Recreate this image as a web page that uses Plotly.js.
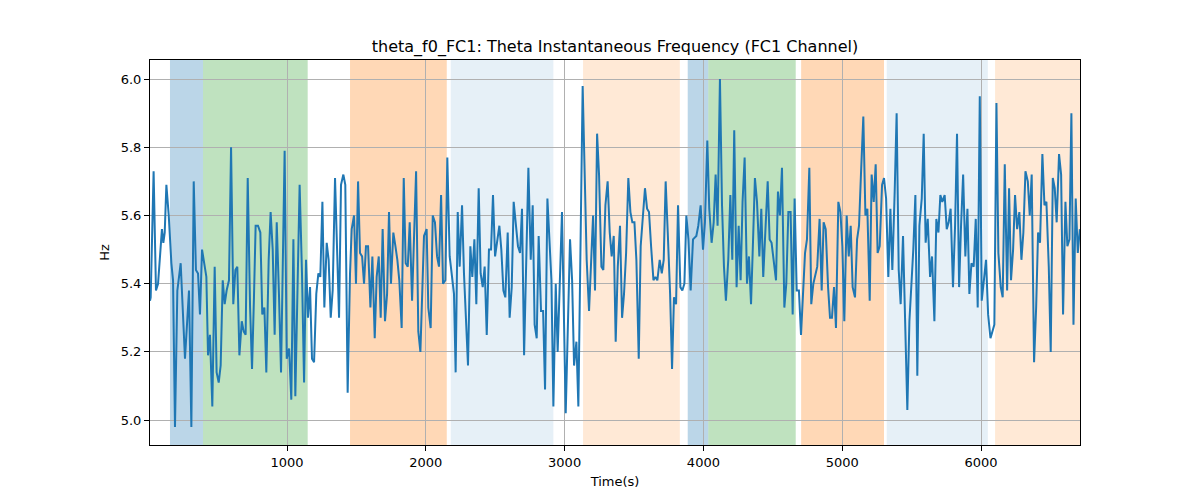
<!DOCTYPE html>
<html>
<head>
<meta charset="utf-8">
<script src="https://cdn.plot.ly/plotly-3.0.1.min.js"></script>
<style>
  html, body { margin: 0; padding: 0; background: #fff; }
  #chart { width: 1200px; height: 500px; }
</style>
</head>
<body>
<div id="chart"></div>
<script>
// theta instantaneous frequency, FC1 channel -----------------------------------
var timeSec = [
  13, 18, 39, 56, 71, 99, 109, 119, 131, 148,
  167, 179, 193, 210, 234, 265, 294, 311, 328, 344,
  359, 373, 388, 419, 431, 445, 462, 479, 493, 508,
  522, 537, 551, 565, 582, 597, 613, 628, 642, 657,
  674, 688, 702, 717, 734, 748, 762, 774, 791, 808,
  822, 837, 851, 868, 882, 897, 911, 926, 942, 957,
  983, 998, 1015, 1031, 1046, 1060, 1077, 1091, 1108, 1123,
  1137, 1151, 1166, 1180, 1195, 1211, 1226, 1240, 1255, 1269,
  1286, 1300, 1315, 1329, 1346, 1360, 1375, 1389, 1406, 1420,
  1437, 1454, 1466, 1483, 1497, 1512, 1526, 1541, 1555, 1569,
  1584, 1601, 1615, 1632, 1646, 1661, 1675, 1689, 1706, 1721,
  1735, 1749, 1766, 1781, 1795, 1809, 1826, 1841, 1855, 1870,
  1884, 1901, 1915, 1930, 1946, 1961, 1987, 2006, 2018, 2035,
  2050, 2066, 2081, 2095, 2110, 2124, 2141, 2155, 2172, 2187,
  2203, 2215, 2230, 2244, 2261, 2275, 2290, 2304, 2321, 2335,
  2350, 2364, 2381, 2395, 2410, 2424, 2439, 2455, 2470, 2484,
  2499, 2513, 2530, 2544, 2559, 2573, 2590, 2604, 2619, 2633,
  2648, 2664, 2679, 2693, 2708, 2724, 2739, 2756, 2770, 2784,
  2799, 2813, 2830, 2845, 2859, 2876, 2890, 2905, 2919, 2936,
  2950, 2981, 3008, 3039, 3054, 3068, 3085, 3099, 3130, 3145,
  3159, 3176, 3190, 3205, 3219, 3234, 3248, 3265, 3279, 3294,
  3310, 3325, 3339, 3354, 3368, 3383, 3399, 3414, 3428, 3443,
  3459, 3474, 3488, 3503, 3517, 3534, 3548, 3563, 3579, 3594,
  3608, 3623, 3640, 3654, 3668, 3685, 3700, 3714, 3728, 3743,
  3760, 3774, 3788, 3803, 3817, 3834, 3848, 3863, 3877, 3892,
  3908, 3925, 3949, 3963, 3980, 3997, 4011, 4028, 4042, 4059,
  4074, 4088, 4102, 4119, 4134, 4148, 4162, 4179, 4194, 4208,
  4222, 4239, 4254, 4268, 4282, 4297, 4314, 4328, 4343, 4357,
  4371, 4386, 4403, 4417, 4431, 4463, 4477, 4491, 4508, 4523,
  4537, 4551, 4566, 4583, 4597, 4612, 4628, 4643, 4657, 4672,
  4688, 4703, 4732, 4746, 4763, 4777, 4792, 4820, 4837, 4852,
  4866, 4881, 4898, 4912, 4926, 4941, 4955, 4972, 4987, 5001,
  5015, 5032, 5047, 5061, 5075, 5092, 5107, 5121, 5135, 5152,
  5167, 5181, 5198, 5212, 5227, 5241, 5255, 5270, 5287, 5301,
  5316, 5332, 5347, 5361, 5378, 5392, 5407, 5421, 5438, 5452,
  5469, 5484, 5498, 5512, 5527, 5541, 5556, 5573, 5587, 5601,
  5616, 5633, 5647, 5664, 5678, 5693, 5707, 5721, 5738, 5753,
  5767, 5781, 5798, 5813, 5827, 5842, 5856, 5871, 5887, 5902,
  5916, 5931, 5947, 5962, 5976, 5991, 6005, 6020, 6036, 6051,
  6068, 6082, 6096, 6111, 6125, 6142, 6156, 6171, 6188, 6202,
  6216, 6231, 6245, 6260, 6276, 6291, 6305, 6320, 6337, 6351,
  6365, 6382, 6397, 6411, 6425, 6442, 6457, 6471, 6488, 6502,
  6517, 6531, 6545, 6562, 6577, 6591, 6608, 6622, 6637, 6651,
  6666, 6682, 6697, 6712
];

var thetaHz = [
  5.35, 5.36, 5.73, 5.38, 5.40, 5.56, 5.52, 5.55, 5.69, 5.60,
  5.46, 5.41, 4.98, 5.38, 5.46, 5.18, 5.38, 4.98, 5.70, 5.44,
  5.43, 5.31, 5.50, 5.42, 5.19, 5.25, 5.04, 5.45, 5.14, 5.11,
  5.16, 5.41, 5.34, 5.38, 5.41, 5.80, 5.34, 5.44, 5.45, 5.19,
  5.29, 5.26, 5.25, 5.71, 5.33, 5.15, 5.36, 5.57, 5.57, 5.55,
  5.31, 5.33, 5.14, 5.47, 5.61, 5.50, 5.25, 5.58, 5.37, 5.14,
  5.79, 5.18, 5.21, 5.06, 5.53, 5.07, 5.41, 5.69, 5.43, 5.11,
  5.47, 5.30, 5.39, 5.18, 5.17, 5.37, 5.43, 5.42, 5.64, 5.33,
  5.52, 5.47, 5.30, 5.38, 5.71, 5.48, 5.30, 5.69, 5.72, 5.69,
  5.08, 5.43, 5.56, 5.60, 5.40, 5.70, 5.49, 5.48, 5.40, 5.51,
  5.51, 5.33, 5.48, 5.24, 5.42, 5.48, 5.30, 5.56, 5.29, 5.37,
  5.61, 5.40, 5.55, 5.51, 5.47, 5.41, 5.27, 5.71, 5.46, 5.45,
  5.58, 5.35, 5.56, 5.73, 5.26, 5.20, 5.54, 5.56, 5.33, 5.27,
  5.60, 5.58, 5.48, 5.45, 5.66, 5.40, 5.41, 5.77, 5.48, 5.42,
  5.37, 5.14, 5.61, 5.45, 5.63, 5.43, 5.28, 5.16, 5.51, 5.42,
  5.53, 5.34, 5.68, 5.43, 5.39, 5.45, 5.25, 5.50, 5.50, 5.66,
  5.48, 5.52, 5.57, 5.50, 5.38, 5.36, 5.55, 5.30, 5.39, 5.64,
  5.58, 5.51, 5.49, 5.62, 5.19, 5.48, 5.74, 5.47, 5.63, 5.28,
  5.24, 5.54, 5.32, 5.32, 5.09, 5.65, 5.53, 5.41, 5.04, 5.40,
  5.20, 5.61, 5.02, 5.53, 5.41, 5.16, 5.23, 5.04, 5.98, 5.73,
  5.47, 5.32, 5.45, 5.60, 5.38, 5.84, 5.72, 5.45, 5.44, 5.63,
  5.70, 5.55, 5.48, 5.54, 5.23, 5.45, 5.57, 5.30, 5.37, 5.49,
  5.71, 5.61, 5.58, 5.58, 5.47, 5.18, 5.51, 5.60, 5.68, 5.62,
  5.61, 5.51, 5.41, 5.42, 5.41, 5.47, 5.43, 5.47, 5.70, 5.55,
  5.37, 5.15, 5.36, 5.34, 5.63, 5.39, 5.38, 5.40, 5.60, 5.53,
  5.38, 5.53, 5.54, 5.57, 5.63, 5.50, 5.58, 5.82, 5.62, 5.52,
  5.58, 5.72, 5.57, 6.00, 5.63, 5.45, 5.35, 5.47, 5.66, 5.47,
  5.85, 5.39, 5.57, 5.41, 5.64, 5.77, 5.40, 5.48, 5.34, 5.52,
  5.71, 5.64, 5.48, 5.62, 5.42, 5.70, 5.53, 5.52, 5.47, 5.41,
  5.67, 5.60, 5.74, 5.33, 5.40, 5.61, 5.61, 5.31, 5.65, 5.38,
  5.38, 5.25, 5.49, 5.53, 5.74, 5.34, 5.40, 5.45, 5.59, 5.38,
  5.58, 5.56, 5.39, 5.30, 5.30, 5.39, 5.27, 5.64, 5.61, 5.51,
  5.29, 5.60, 5.48, 5.57, 5.39, 5.36, 5.53, 5.57, 5.72, 5.89,
  5.60, 5.62, 5.35, 5.72, 5.64, 5.75, 5.49, 5.51, 5.69, 5.71,
  5.65, 5.42, 5.62, 5.44, 5.67, 5.90, 5.44, 5.34, 5.54, 5.29,
  5.03, 5.29, 5.38, 5.50, 5.66, 5.13, 5.57, 5.65, 5.84, 5.52,
  5.59, 5.42, 5.48, 5.29, 5.59, 5.55, 5.66, 5.64, 5.66, 5.56,
  5.58, 5.62, 5.39, 5.57, 5.84, 5.39, 5.57, 5.72, 5.48, 5.62,
  5.37, 5.46, 5.45, 5.59, 5.33, 5.95, 5.35, 5.41, 5.47, 5.31,
  5.24, 5.26, 5.28, 5.93, 5.49, 5.39, 5.36, 5.75, 5.38, 5.68,
  5.41, 5.50, 5.66, 5.56, 5.61, 5.47, 5.55, 5.73, 5.70, 5.60,
  5.72, 5.17, 5.33, 5.55, 5.52, 5.78, 5.63, 5.64, 5.45, 5.20,
  5.71, 5.68, 5.58, 5.78, 5.72, 5.31, 5.64, 5.51, 5.53, 5.90,
  5.28, 5.65, 5.49, 5.56
];

// shaded epochs ----------------------------------------------------------------
var spanStart = [157, 395, 1454, 2180, 3133, 3887, 4035, 4704, 5321, 6101];
var spanEnd   = [395, 1149, 2151, 2919, 3830, 4035, 4665, 5301, 6049, 6713];
var spanKind  = ["A", "B", "C", "D", "E", "A", "B", "C", "D", "E"];

var yTicks = [5.0, 5.2, 5.4, 5.6, 5.8, 6.0];
var xTicks = [1000, 2000, 3000, 4000, 5000, 6000];

var kindFill = {
  A: "rgba(31,119,180,0.3)",
  B: "rgba(44,160,44,0.3)",
  C: "rgba(255,127,14,0.3)",
  D: "rgba(31,119,180,0.11)",
  E: "rgba(255,127,14,0.17)",
};

var shapes = spanStart.map(function (s, i) {
  return {
    type: "rect",
    xref: "x",
    yref: "paper",
    x0: s,
    x1: spanEnd[i],
    y0: 0,
    y1: 1,
    fillcolor: kindFill[spanKind[i]],
    line: { width: 0 },
    layer: "below",
  };
});

var trace = {
  x: timeSec,
  y: thetaHz,
  type: "scatter",
  mode: "lines",
  line: { color: "#1f77b4", width: 2 },
  hoverinfo: "x+y",
};

var axisCommon = {
  showgrid: true,
  gridcolor: "#b0b0b0",
  gridwidth: 1,
  zeroline: false,
  showline: true,
  mirror: true,
  linecolor: "#000",
  linewidth: 1,
  ticks: "outside",
  ticklen: 5,
  tickwidth: 1,
  tickcolor: "#000",
  tickfont: { size: 13, color: "#000" },
};

var layout = {
  width: 1200,
  height: 500,
  margin: { l: 150, r: 120, t: 60, b: 55 },
  paper_bgcolor: "#fff",
  plot_bgcolor: "#fff",
  font: { family: "DejaVu Sans, sans-serif", color: "#000" },
  showlegend: false,
  title: {
    text: "theta_f0_FC1: Theta Instantaneous Frequency (FC1 Channel)",
    font: { size: 16, color: "#000" },
    x: 0.5,
    xref: "paper",
    y: 1 - 46 / 500,
    yanchor: "middle",
  },
  xaxis: Object.assign({}, axisCommon, {
    range: [13, 6713],
    tickmode: "array",
    tickvals: xTicks,
    ticktext: xTicks.map(String),
    title: { text: "Time(s)", font: { size: 13 }, standoff: 8 },
  }),
  yaxis: Object.assign({}, axisCommon, {
    range: [4.927, 6.056],
    tickmode: "array",
    tickvals: yTicks,
    ticktext: yTicks.map(function (v) { return v.toFixed(1); }),
    title: { text: "Hz", font: { size: 13 }, standoff: 8 },
  }),
  shapes: shapes,
};

Plotly.newPlot("chart", [trace], layout, { displayModeBar: false, staticPlot: true });
</script>
</body>
</html>
